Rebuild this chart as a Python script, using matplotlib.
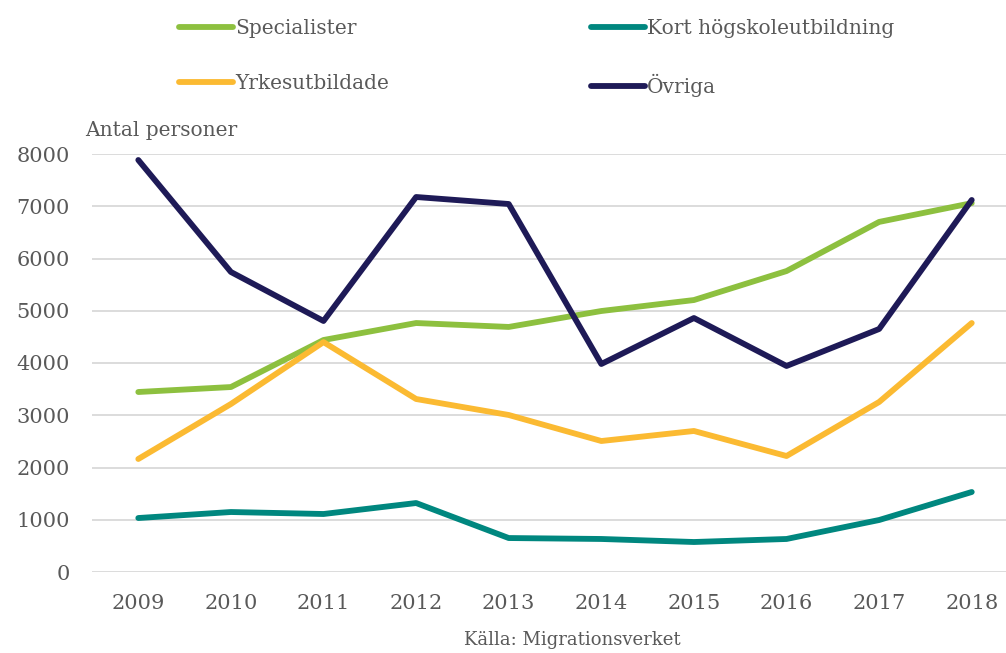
import matplotlib.pyplot as plt
from matplotlib.ticker import FixedLocator

years = ["2009", "2010", "2011", "2012", "2013", "2014", "2015", "2016", "2017", "2018"]
specialister = [3445, 3540, 4440, 4765, 4690, 4995, 5205, 5760, 6700, 7060]
kort_hogskola = [1033, 1148, 1110, 1320, 650, 632, 574, 632, 995, 1531]
yrkesutbildade = [2163, 3215, 4400, 3311, 3005, 2507, 2699, 2220, 3254, 4765]
ovriga = [7885, 5742, 4804, 7177, 7043, 3981, 4861, 3943, 4651, 7120]
y_ticks = [0, 1000, 2000, 3000, 4000, 5000, 6000, 7000, 8000]

text_col = "#595959"
plt.rcParams["font.family"] = ["DejaVu Serif"]


def main():
    fig = plt.figure(figsize=(10.06, 6.53), dpi=100)
    ax = fig.add_axes([92 / 1006, 81 / 653, 914 / 1006, 418 / 653])

    x = range(len(years))
    l1, = ax.plot(x, specialister, color="#8DC03F", lw=4.2, label="Specialister")
    l2, = ax.plot(x, kort_hogskola, color="#00877F", lw=4.2, label="Kort högskoleutbildning")
    l3, = ax.plot(x, yrkesutbildade, color="#FBBA32", lw=4.2, label="Yrkesutbildade")
    l4, = ax.plot(x, ovriga, color="#1E1A57", lw=4.2, label="Övriga")

    ax.set_xlim(-0.5, 9.37)
    ax.set_ylim(0, 8000)
    ax.yaxis.set_major_locator(FixedLocator(y_ticks))
    ax.set_yticklabels([str(v) for v in y_ticks])
    ax.set_xticks(list(x))
    ax.set_xticklabels(years)
    ax.tick_params(axis="both", length=0, labelsize=15, colors=text_col)
    ax.tick_params(axis="y", which="major", pad=16)
    ax.tick_params(axis="x", which="major", pad=16)
    ax.grid(True, axis="y", color="#D9D9D9", lw=1.3)
    ax.set_axisbelow(True)
    for s in ax.spines.values():
        s.set_visible(False)
    for ln in (l1, l2, l3, l4):
        ln.set_clip_on(False)
        ln.set_solid_capstyle("round")

    # legend in two columns, ordered row by row
    leg = fig.legend([l1, l3, l2, l4],
                     ["Specialister", "Yrkesutbildade", "Kort högskoleutbildning", "Övriga"],
                     ncol=2, loc="upper left", bbox_to_anchor=(171 / 1006, 1 - 11 / 653),
                     frameon=False, fontsize=14.5, handlelength=2.7, handletextpad=0.1,
                     columnspacing=10.0, labelspacing=1.8, borderaxespad=0)
    for t in leg.get_texts():
        t.set_color(text_col)

    fig.text(85 / 1006, 1 - 130 / 653, "Antal personer", fontsize=14.5,
             color=text_col, ha="left", va="center")
    fig.text(572 / 1006, 1 - 640 / 653, "Källa: Migrationsverket", fontsize=13,
             color=text_col, ha="center", va="center")

    fig.savefig("out.png", dpi=100)


main()
